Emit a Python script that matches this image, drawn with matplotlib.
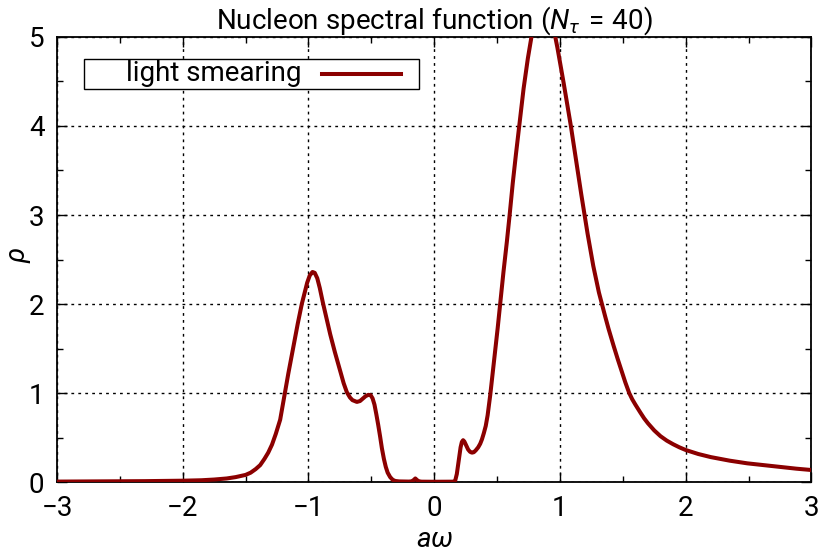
import matplotlib
matplotlib.use("Agg")
import matplotlib.pyplot as plt
from matplotlib.patches import Rectangle
from matplotlib.lines import Line2D
from matplotlib.ticker import MultipleLocator

plt.rcParams["font.family"] = ["Roboto", "DejaVu Sans"]
plt.rcParams["mathtext.fontset"] = "custom"
plt.rcParams["mathtext.rm"] = "Roboto"
plt.rcParams["mathtext.it"] = "Roboto:italic"
plt.rcParams["mathtext.sf"] = "Roboto"
plt.rcParams["mathtext.fallback"] = "stixsans"

# Spectral function samples: a*omega and rho
a_omega = [
    -3.0, -2.6, -2.3, -2.0, -1.85, -1.75, -1.65, -1.58, -1.5, -1.46,
    -1.42, -1.384, -1.35, -1.32, -1.29, -1.26, -1.225, -1.19, -1.16, -1.12,
    -1.085, -1.053, -1.03, -1.01, -0.99, -0.968, -0.95, -0.93, -0.91, -0.886,
    -0.86, -0.827, -0.79, -0.748, -0.72, -0.695, -0.67, -0.65, -0.615, -0.59,
    -0.57, -0.545, -0.523, -0.505, -0.49, -0.475, -0.46, -0.445, -0.43, -0.416,
    -0.40, -0.385, -0.37, -0.35, -0.33, -0.31, -0.28, -0.2, -0.18, -0.165,
    -0.15, -0.135, -0.12, -0.1, 0.0, 0.15, 0.167, 0.18, 0.195, 0.21,
    0.22, 0.23, 0.24, 0.255, 0.27, 0.285, 0.3, 0.315, 0.33, 0.35,
    0.366, 0.38, 0.395, 0.41, 0.425, 0.446, 0.465, 0.485, 0.505, 0.525,
    0.551, 0.578, 0.60, 0.625, 0.65, 0.676, 0.711, 0.745, 0.777, 0.80,
    0.83, 0.86, 0.89, 0.92, 0.945, 0.963, 0.98, 1.0, 1.03, 1.06,
    1.087, 1.115, 1.14, 1.17, 1.196, 1.22, 1.241, 1.265, 1.29, 1.31,
    1.334, 1.36, 1.387, 1.41, 1.427, 1.46, 1.49, 1.52, 1.551, 1.575,
    1.6, 1.64, 1.67, 1.7, 1.75, 1.8, 1.85, 1.9, 1.95, 2.0,
    2.1, 2.2, 2.35, 2.49, 2.62, 2.75, 2.88, 3.0,
]
rho = [
    0.005, 0.008, 0.010, 0.015, 0.020, 0.028, 0.040, 0.055, 0.080, 0.105,
    0.145, 0.19, 0.26, 0.33, 0.42, 0.54, 0.70, 0.98, 1.22, 1.52,
    1.78, 2.00, 2.13, 2.24, 2.32, 2.36, 2.35, 2.29, 2.18, 2.02,
    1.86, 1.66, 1.46, 1.25, 1.11, 1.01, 0.95, 0.92, 0.90, 0.91,
    0.935, 0.965, 0.98, 0.975, 0.94, 0.87, 0.76, 0.64, 0.51, 0.38,
    0.26, 0.17, 0.105, 0.055, 0.025, 0.012, 0.007, 0.005, 0.008, 0.02,
    0.04, 0.02, 0.008, 0.004, 0.003, 0.004, 0.015, 0.09, 0.24, 0.39,
    0.45, 0.47, 0.455, 0.41, 0.365, 0.34, 0.33, 0.335, 0.355, 0.39,
    0.43, 0.48, 0.55, 0.63, 0.75, 0.98, 1.22, 1.47, 1.73, 2.00,
    2.36, 2.70, 3.00, 3.36, 3.68, 4.00, 4.42, 4.76, 5.03, 5.20,
    5.33, 5.40, 5.38, 5.27, 5.13, 5.00, 4.88, 4.72, 4.48, 4.23,
    4.00, 3.74, 3.50, 3.23, 3.00, 2.79, 2.62, 2.43, 2.26, 2.13,
    2.00, 1.86, 1.72, 1.61, 1.53, 1.38, 1.25, 1.12, 1.00, 0.93,
    0.87, 0.78, 0.715, 0.66, 0.58, 0.515, 0.465, 0.425, 0.39, 0.36,
    0.315, 0.28, 0.24, 0.21, 0.19, 0.17, 0.15, 0.135,
]

series_label = "light smearing"
title = r"Nucleon spectral function ($N_\tau\,=\,40$)"
line_color = "#8b0000"

fig = plt.figure(figsize=(8.2, 5.57), dpi=100)
ax = fig.add_axes([0.0695, 0.1346, 0.92, 0.799])

ax.plot(a_omega, rho, color=line_color, lw=2.9, solid_joinstyle="round",
        solid_capstyle="round", zorder=3)

ax.set_xlim(-3, 3)
ax.set_ylim(0, 5)
ax.xaxis.set_major_locator(MultipleLocator(1))
ax.xaxis.set_minor_locator(MultipleLocator(0.5))
ax.yaxis.set_major_locator(MultipleLocator(1))
ax.yaxis.set_minor_locator(MultipleLocator(0.5))
ax.tick_params(which="both", direction="in", top=True, right=True,
               labelsize=20, width=1.0, colors="black")
ax.tick_params(which="major", length=7, pad=9)
ax.tick_params(which="minor", length=4.5)
ax.set_xticks([-3, -2, -1, 0, 1, 2, 3])
ax.set_xticklabels(["\u22123", "\u22122", "\u22121", "0", "1", "2", "3"])

ax.grid(True, which="major", color="black", linestyle=(0, (2, 3)), linewidth=1.0)
for s in ax.spines.values():
    s.set_linewidth(1.3)

ax.set_xlabel(r"$a\omega$", fontsize=20, va="center")
ax.xaxis.set_label_coords(0.5, -0.13)
ax.set_ylabel(r"$\rho$", fontsize=20, va="center", ha="center")
ax.yaxis.set_label_coords(-0.05, 0.51)
ax.set_title(title, fontsize=20, pad=3)

# Key box in the upper left corner
ax.add_patch(Rectangle((0.0358, 0.883), 0.4442, 0.068, transform=ax.transAxes,
                       facecolor="white", edgecolor="black", lw=1.0, zorder=5))
ax.text(0.3245, 0.917, series_label, transform=ax.transAxes, ha="right",
        va="center", fontsize=20, zorder=6)
ax.add_line(Line2D([0.3515, 0.456], [0.917, 0.917], transform=ax.transAxes,
                   color=line_color, lw=2.9, zorder=6))

fig.savefig("out.png", dpi=100)
